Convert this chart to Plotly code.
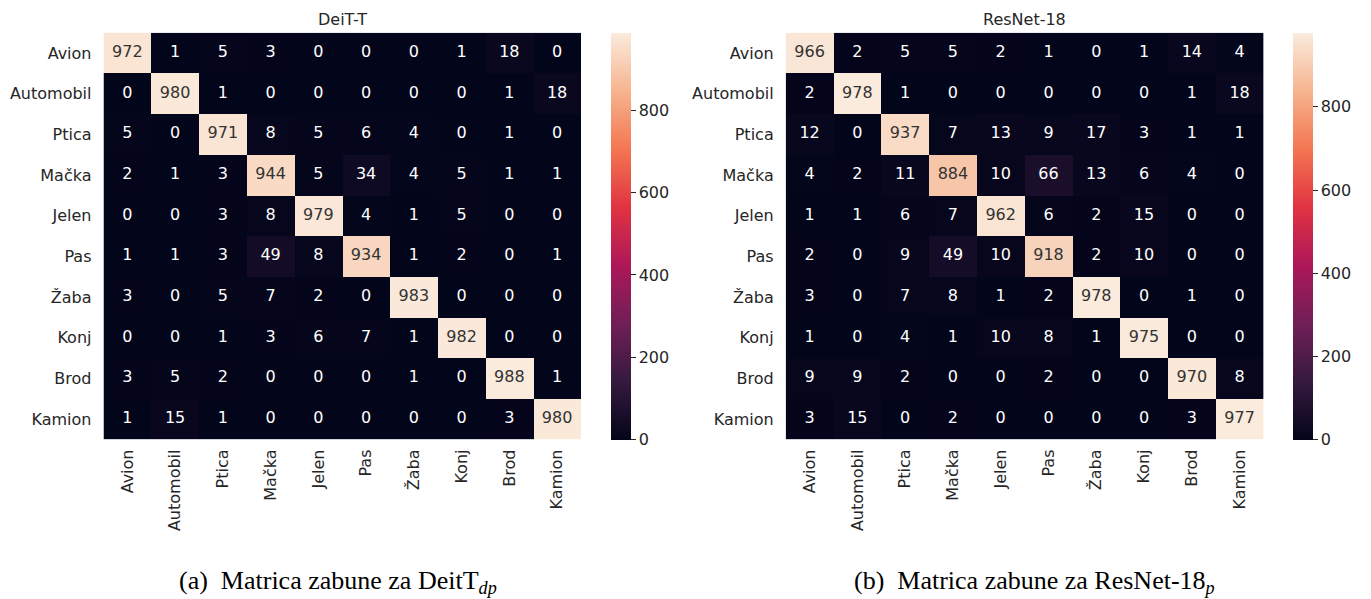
import plotly.graph_objects as go

categories = ["Avion", "Automobil", "Ptica", "Mačka", "Jelen", "Pas", "Žaba", "Konj", "Brod", "Kamion"]

deit_values = [
    [972, 1, 5, 3, 0, 0, 0, 1, 18, 0],
    [0, 980, 1, 0, 0, 0, 0, 0, 1, 18],
    [5, 0, 971, 8, 5, 6, 4, 0, 1, 0],
    [2, 1, 3, 944, 5, 34, 4, 5, 1, 1],
    [0, 0, 3, 8, 979, 4, 1, 5, 0, 0],
    [1, 1, 3, 49, 8, 934, 1, 2, 0, 1],
    [3, 0, 5, 7, 2, 0, 983, 0, 0, 0],
    [0, 0, 1, 3, 6, 7, 1, 982, 0, 0],
    [3, 5, 2, 0, 0, 0, 1, 0, 988, 1],
    [1, 15, 1, 0, 0, 0, 0, 0, 3, 980],
]

resnet_values = [
    [966, 2, 5, 5, 2, 1, 0, 1, 14, 4],
    [2, 978, 1, 0, 0, 0, 0, 0, 1, 18],
    [12, 0, 937, 7, 13, 9, 17, 3, 1, 1],
    [4, 2, 11, 884, 10, 66, 13, 6, 4, 0],
    [1, 1, 6, 7, 962, 6, 2, 15, 0, 0],
    [2, 0, 9, 49, 10, 918, 2, 10, 0, 0],
    [3, 0, 7, 8, 1, 2, 978, 0, 1, 0],
    [1, 0, 4, 1, 10, 8, 1, 975, 0, 0],
    [9, 9, 2, 0, 0, 2, 0, 0, 970, 8],
    [3, 15, 0, 2, 0, 0, 0, 0, 3, 977],
]

titles = ["DeiT-T", "ResNet-18"]
captions = ["(a)&nbsp;&nbsp;Matrica zabune za DeitT<sub><i>dp</i></sub>",
            "(b)&nbsp;&nbsp;Matrica zabune za ResNet-18<sub><i>p</i></sub>"]
cbar_ticks = [0, 200, 400, 600, 800]

rocket = [
    [0.0, "#03051A"],
    [1/7, "#35193E"],
    [2/7, "#701F57"],
    [3/7, "#AD1759"],
    [4/7, "#E13342"],
    [5/7, "#F37651"],
    [6/7, "#F6B48F"],
    [1.0, "#FAEBDD"],
]

# the page body adds an 8px margin; work in page pixels and convert
OFF = 8
W, H = 1371 - OFF, 599 - OFF


def fx(px):
    return (px - OFF) / W


def fy(py):
    return 1 - (py - OFF) / H


panels = [
    dict(x0=103.5, x1=581.0, cb=610.7, cap=338),
    dict(x0=785.7, x1=1263.5, cb=1293.3, cap=1034),
]
top_px, bot_px = 32.7, 439.3

txt = "#262626"
font_fam = "DejaVu Sans"

fig = go.Figure()
datasets = [deit_values, resnet_values]
for i, (vals, p) in enumerate(zip(datasets, panels)):
    zmax = max(max(r) for r in vals)
    xa = "x" if i == 0 else "x2"
    ya = "y" if i == 0 else "y2"
    fig.add_trace(go.Heatmap(
        z=vals, x=categories, y=categories,
        colorscale=rocket, zmin=0, zmax=zmax,
        xaxis=xa, yaxis=ya, hoverinfo="skip",
        colorbar=dict(
            x=fx(p["cb"]), xanchor="left", xref="paper",
            y=fy(top_px), yanchor="top", yref="paper",
            len=bot_px - top_px, lenmode="pixels",
            thickness=20, thicknessmode="pixels",
            xpad=0, ypad=0, outlinewidth=0,
            tickvals=cbar_ticks, ticks="outside", ticklen=5,
            tickcolor=txt, tickwidth=1,
            tickfont=dict(family=font_fam, size=16, color=txt),
        ),
    ))
    xs, ys, ts, cs = [], [], [], []
    for r, row in enumerate(vals):
        for c, v in enumerate(row):
            xs.append(categories[c])
            ys.append(categories[r])
            ts.append(str(v))
            cs.append("#333333" if v / zmax > 0.5 else "white")
    fig.add_trace(go.Scatter(
        x=xs, y=ys, text=ts, mode="text",
        textfont=dict(family=font_fam, size=16, color=cs),
        xaxis=xa, yaxis=ya, hoverinfo="skip", showlegend=False,
    ))

axis_common = dict(showgrid=False, zeroline=False, showline=False, ticks="",
                   tickfont=dict(family=font_fam, size=16, color=txt))
layout = dict(
    width=W, height=H,
    margin=dict(l=0, r=0, t=0, b=0),
    paper_bgcolor="white", plot_bgcolor="white",
    showlegend=False,
)
for i, p in enumerate(panels):
    sx = "" if i == 0 else "2"
    layout["xaxis" + sx] = dict(axis_common,
                               domain=[fx(p["x0"]), fx(p["x1"])],
                               range=[-0.5, 9.5], tickangle=-90,
                               ticklabelstandoff=6,
                               anchor="y" + sx)
    layout["yaxis" + sx] = dict(axis_common,
                               domain=[fy(bot_px), fy(top_px)],
                               range=[9.5, -0.5], ticklabelstandoff=11,
                               anchor="x" + sx)
fig.update_layout(**layout)

annotations = []
for i, p in enumerate(panels):
    cx = fx((p["x0"] + p["x1"]) / 2)
    annotations.append(dict(
        text=titles[i], x=cx, y=fy(20), xref="paper", yref="paper",
        xanchor="center", yanchor="middle", showarrow=False,
        font=dict(family=font_fam, size=16, color=txt)))
    annotations.append(dict(
        text=captions[i], x=fx(p["cap"]), y=fy(582), xref="paper", yref="paper",
        xanchor="center", yanchor="middle", showarrow=False,
        font=dict(family="Liberation Serif", size=26, color="black")))
fig.update_layout(annotations=annotations)

fig.write_html("out.html")
